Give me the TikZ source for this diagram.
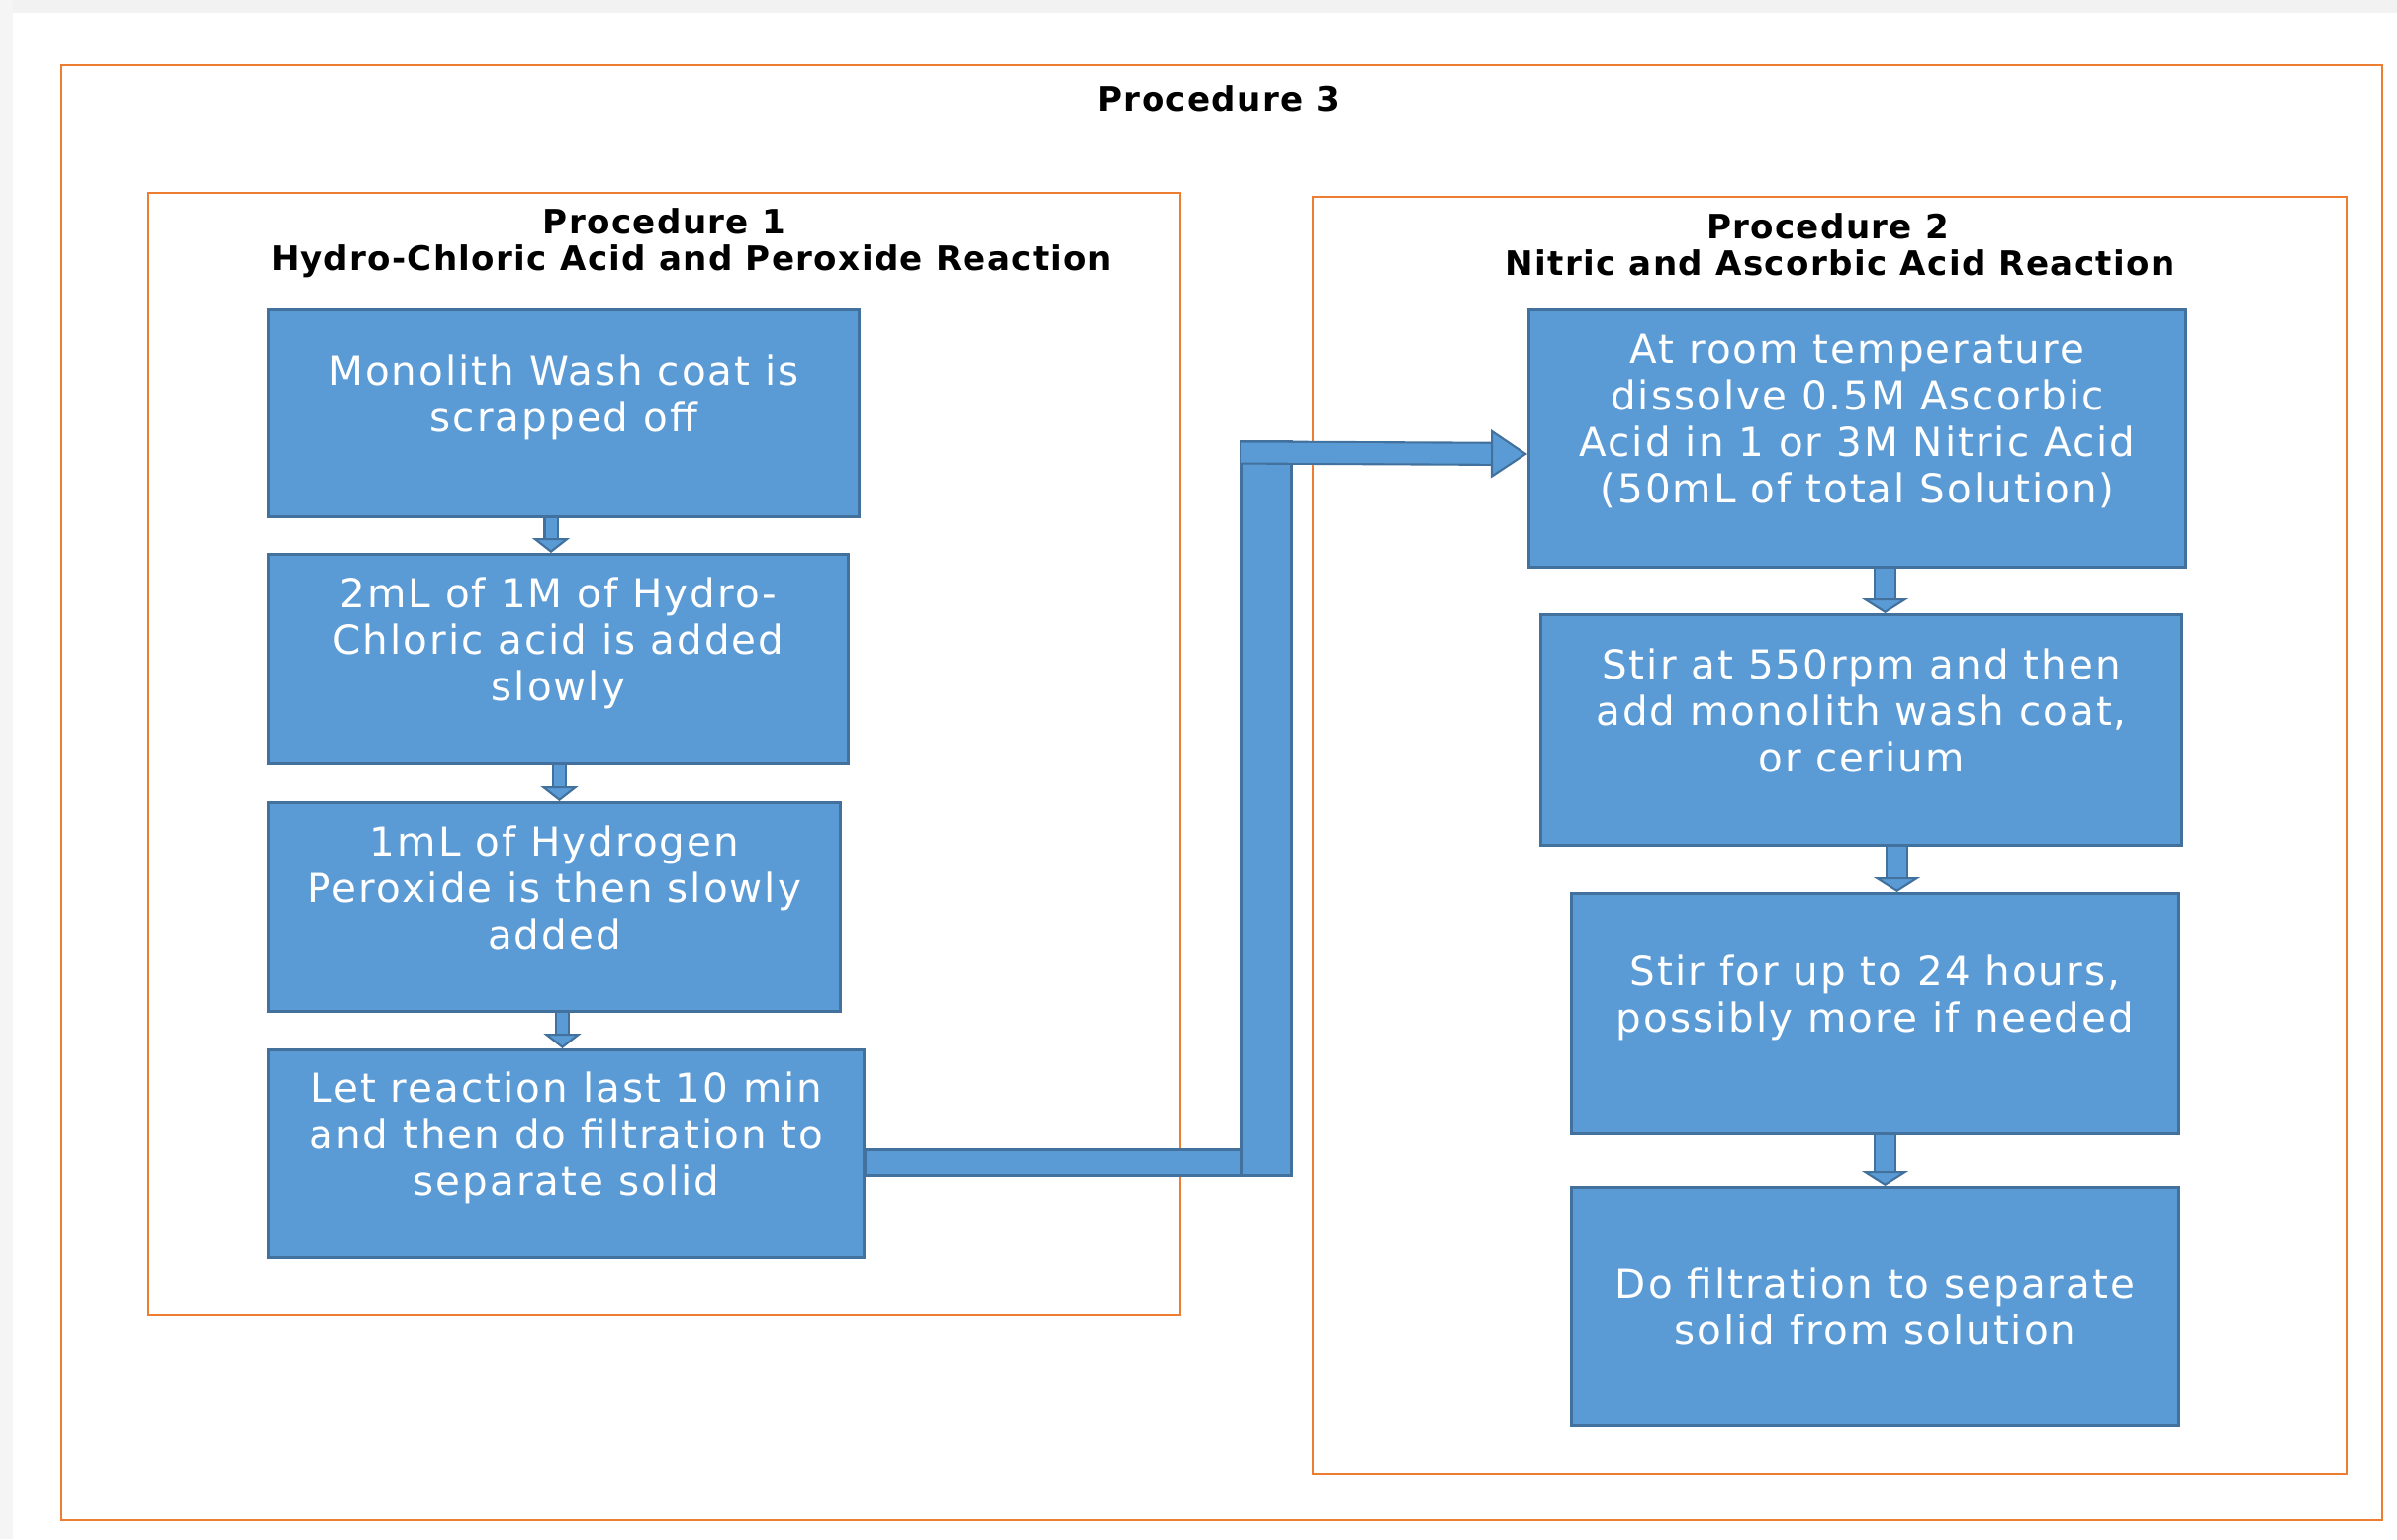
\documentclass[tikz,border=0pt]{standalone}
\usepackage{fontspec}
\usetikzlibrary{arrows.meta}
\newfontfamily\boxfont[LetterSpace=5]{DejaVu Sans}
\newfontfamily\headfont[LetterSpace=4]{DejaVu Sans}
\definecolor{boxblue}{HTML}{5B9BD5}
\definecolor{boxedge}{HTML}{41719C}
\definecolor{frameorange}{HTML}{ED7D31}

\begin{document}
\begin{tikzpicture}[
  frame/.style={draw=frameorange, line width=0.75pt},
  stepbox/.style={draw=boxedge, line width=0.85pt, fill=boxblue, text=white,
                  align=center, anchor=north west, inner sep=0pt, text depth=0.40cm,
                  font=\boxfont\fontsize{11.5}{13.4}\selectfont},
  head/.style={font=\headfont\bfseries\fontsize{9.7}{10.5}\selectfont, align=center},
  flow/.style n args={3}{line width=#1, draw=boxblue,
                  preaction={arrows=-, draw=boxedge, line width=#1+1.2pt, shorten >=#3},
                  -{Triangle[length=#3, width=#2, line width=0.6pt, color=boxedge, fill=boxblue]}},
  pipe/.style={draw=boxedge, line width=0.85pt, fill=boxblue},
]
  \useasboundingbox (0,0) rectangle (24.23,-15.56);

  %% page shadow
  \fill[black!5] (0,0) rectangle (24.23,-0.13);
  \fill[black!4] (0,0) rectangle (0.13,-15.56);

  %% Frames
  \draw[frame] (0.62,-0.66) rectangle (24.08,-15.37);
  \draw[frame] (1.50,-1.95) rectangle (11.93,-13.30);
  \draw[frame] (13.27,-1.99) rectangle (23.72,-14.90);

  %% Headings
  \node[head] (t3) at (12.32,-1.00) {Procedure 3};
  \node[head] (t1) at (6.99,-2.46) {Procedure 1\hspace*{0.55cm}\\Hydro-Chloric Acid and Peroxide Reaction};
  \node[head] (t2) at (18.60,-2.47) {Procedure 2\hspace*{0.25cm}\\Nitric and Ascorbic Acid Reaction};

  %% Procedure 1 steps
  \node[stepbox, minimum width=5.97cm, minimum height=2.10cm] (b1) at (2.70,-3.11)
    {Monolith Wash coat is\\scrapped off};
  \node[stepbox, minimum width=5.86cm, minimum height=2.11cm] (b2) at (2.70,-5.59)
    {2mL of 1M of Hydro-\\Chloric acid is added\\slowly};
  \node[stepbox, minimum width=5.78cm, minimum height=2.11cm] (b3) at (2.70,-8.10)
    {1mL of Hydrogen\\Peroxide is then slowly\\added};
  \node[stepbox, minimum width=6.02cm, minimum height=2.10cm] (b4) at (2.70,-10.60)
    {Let reaction last 10 min\\and then do filtration to\\separate solid};

  %% Procedure 2 steps
  \node[stepbox, minimum width=6.64cm, minimum height=2.61cm] (r1) at (15.44,-3.11)
    {At room temperature\\dissolve 0.5M Ascorbic\\Acid in 1 or 3M Nitric Acid\\(50mL of total Solution)};
  \node[stepbox, minimum width=6.48cm, minimum height=2.33cm] (r2) at (15.56,-6.20)
    {Stir at 550rpm and then\\add monolith wash coat,\\or cerium};
  \node[stepbox, minimum width=6.14cm, minimum height=2.43cm] (r3) at (15.87,-9.02)
    {Stir for up to 24 hours,\\possibly more if needed};
  \node[stepbox, minimum width=6.14cm, minimum height=2.41cm, text depth=0cm] (r4) at (15.87,-11.99)
    {Do filtration to separate\\solid from solution};

  %% Step arrows
  \foreach \a/\b/\dx in {b1/b2/-0.13, b2/b3/0.01, b3/b4/0.08} {
    \coordinate (tail) at ([xshift=\dx cm]\a.south);
    \draw[flow={0.11cm}{0.38cm}{0.15cm}] (tail) -- (tail |- \b.north);
  }
  \foreach \a/\b/\dx in {r1/r2/0.28, r2/r3/0.36, r3/r4/0.10} {
    \coordinate (tail) at ([xshift=\dx cm]\a.south);
    \draw[flow={0.19cm}{0.47cm}{0.15cm}] (tail) -- (tail |- \b.north);
  }

  %% Procedure 1 -> Procedure 2
  \coordinate (foot) at (12.54,-11.88);
  \coordinate (bend) at (12.54,-4.575);
  \draw[pipe] ([yshift=0.04cm]b4.east) rectangle (foot);
  \draw[pipe] (foot) rectangle (13.05,-4.46);
  \draw[flow={0.20cm}{0.49cm}{0.37cm}] (bend) -- ([yshift=-0.16cm]r1.west);
\end{tikzpicture}
\end{document}
